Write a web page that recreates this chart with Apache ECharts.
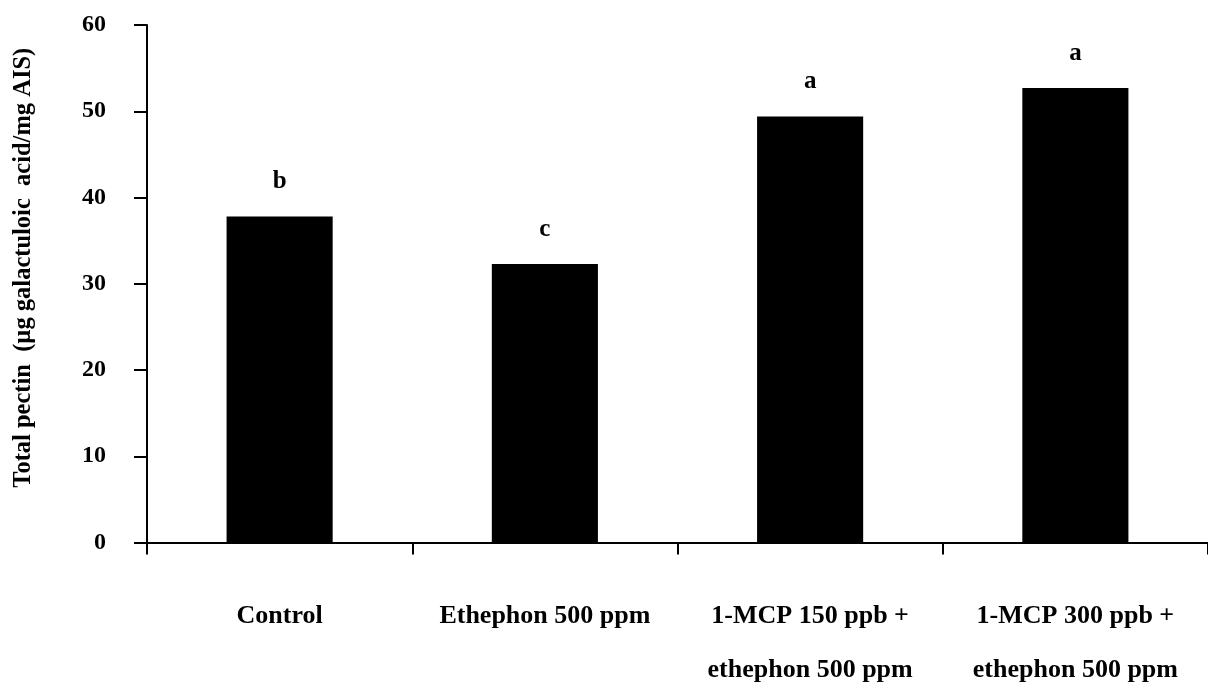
<!DOCTYPE html>
<html>
<head>
<meta charset="utf-8">
<script src="https://cdn.jsdelivr.net/npm/echarts@6/dist/echarts.min.js"></script>
<style>
html,body{margin:0;padding:0;background:#fff;}
#chart{width:1208px;height:688px;}
</style>
</head>
<body>
<div id="chart"></div>
<script>
const categories = ['Control', 'Ethephon 500 ppm', '1-MCP 150 ppb +\nethephon 500 ppm', '1-MCP 300 ppb +\nethephon 500 ppm'];
const values = [37.8, 32.3, 49.4, 52.7];
const letters = ['b', 'c', 'a', 'a'];
const yTicks = [0, 10, 20, 30, 40, 50, 60];
const yTitle = 'Total pectin  (µg galactuloic  acid/mg AIS)';

const FONT = '"Liberation Serif", "Times New Roman", serif';
const chart = echarts.init(document.getElementById('chart'));
chart.setOption({
  animation: false,
  grid: {left: 147, right: 0, top: 25, bottom: 145.5, containLabel: false, outerBoundsMode: 'none'},
  xAxis: {
    type: 'category',
    data: categories,
    axisLine: {lineStyle: {color: '#000', width: 2}},
    axisTick: {show: true, length: 12, lineStyle: {color: '#000', width: 2}},
    axisLabel: {
      color: '#000', fontFamily: FONT, fontWeight: 'bold', fontSize: 26,
      verticalAlign: 'top', lineHeight: 54, margin: 47, interval: 0
    }
  },
  yAxis: {
    type: 'value',
    min: yTicks[0], max: yTicks[yTicks.length - 1], interval: 10,
    splitLine: {show: false},
    axisLine: {show: true, lineStyle: {color: '#000', width: 2}},
    axisTick: {show: true, inside: false, length: 13, lineStyle: {color: '#000', width: 2}},
    axisLabel: {color: '#000', fontFamily: FONT, fontWeight: 'bold', fontSize: 24, margin: 41},
    name: yTitle,
    nameLocation: 'middle',
    nameRotate: 90,
    nameGap: 111,
    nameTextStyle: {color: '#000', fontFamily: FONT, fontWeight: 'bold', fontSize: 24.5, padding: [0, 0, 0, 32]}
  },
  series: [{
    type: 'bar',
    data: values,
    barWidth: '40%',
    itemStyle: {color: '#000'},
    label: {
      show: true, position: 'top', distance: 22,
      formatter: p => letters[p.dataIndex],
      color: '#000', fontFamily: FONT, fontWeight: 'bold', fontSize: 25
    }
  }]
});
</script>
</body>
</html>
